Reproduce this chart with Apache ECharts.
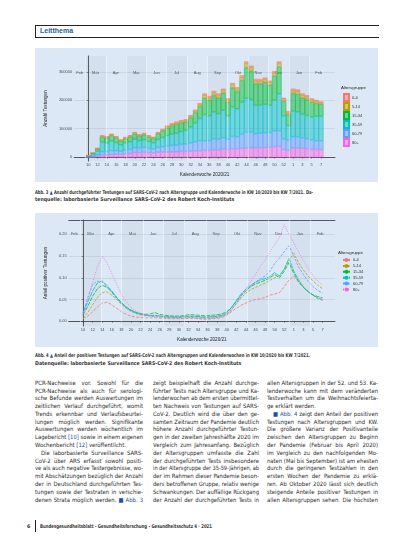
<!DOCTYPE html>
<html>
<head>
<meta charset="utf-8">
<script src="https://cdn.jsdelivr.net/npm/echarts@6/dist/echarts.min.js"></script>
<style>
  body { margin: 0; width: 413px; height: 550px; position: relative; overflow: hidden; background: #fff;
         font-family: "Liberation Sans Narrow", "DejaVu Sans Condensed", "Liberation Sans", sans-serif; color: #2b2b2b; }
  .panel { position: absolute; left: 35px; width: 343px; height: 134px; background: #dce8f5; }
  .ln { position: absolute; white-space: nowrap; }
  .body { font-size: 5.9px; line-height: 7px; }
  .cap { font-size: 5.2px; line-height: 6px; font-weight: bold; color: #333; }
  .b { color: #1f4fa3; }
  #head { position: absolute; left: 35px; top: 25px; width: 343px; height: 11px;
          border-top: 1px solid #222; border-bottom: 1px solid #222; border-left: 1px solid #222; }
  #head span { position: absolute; left: 4px; top: 1px; font: bold 7px "Liberation Sans", sans-serif; color: #1f5f99; }
  #bar { position: absolute; left: 35px; top: 520px; width: 1px; height: 12px; background: #222; }
</style>
</head>
<body>
<div id="head"><span>Leitthema</span></div>
<div id="c1" class="panel" style="top:48px"></div>
<div id="c2" class="panel" style="top:213px"></div>
<div id="bar"></div>
<script>
// Kalenderwochen KW 10/2020 bis KW 7/2021
var weeks = ['10','11','12','13','14','15','16','17','18','19','20','21','22','23','24','25','26','27','28','29',
  '30','31','32','33','34','35','36','37','38','39','40','41','42','43','44','45','46','47','48','49',
  '50','51','52','53','1','2','3','4','5','6','7'];
var ageGroups = ['0-4', '5-14', '15-34', '35-59', '60-79', '80+'];

// Anzahl Testungen je Altersgruppe (in Tausend)
var tests0k  = [0.2,0.4,1,2.5,2.5,2.5,2.5,2,2.5,2.5,2.5,2,2.5,2.5,2,2.5,3,3,3,3.5,3.5,3.5,3.5,4,4,6,5,5,5,5,5,5,5,6,7,6,6,6,6,5,6,6,4,5,6,6,6,5,5,4,4];
var tests5k  = [0.3,0.6,1.5,3.5,3.5,3.5,3.5,3,3.5,3.5,3.5,3,3.5,3.5,3,3.5,4,5,5,5.5,5.5,5.5,5.5,6,7,11,10,11,10,11,9,12,10,12,15,13,11,11,11,11,12,14,9,7,11,11,10,10,9,8,6];
var tests15k = [1.5,3.5,8.5,19,18,20,17,14,15,17,19,17,18,16,15,20,23,27,30,32,31,30,33,37,43,57,54,58,56,60,48,67,61,77,108,100,76,75,77,70,84,94,51,39,62,62,57,56,52,45,42];
var tests35k = [2.5,6,12,33,30,33,28,22,25,27,30,26,27,24,22,28,32,37,40,42,45,48,56,66,78,93,88,95,90,97,82,104,98,112,119,115,100,99,100,96,108,130,80,51,90,88,84,82,80,86,87];
var tests60k = [1,3,6,12,12,14,13,11,13,14,17,16,17,15,14,17,19,21,22,23,25,26,29,32,35,33,34,38,37,40,36,44,43,50,56,55,50,51,52,52,56,55,38,36,39,39,36,35,33,31,30];
var tests80k = [0.5,1.5,3,7,8,9,10,10,12,13,16,16,17,16,15,17,18,18,19,19,20,20,21,22,23,24,24,26,26,28,27,29,29,31,32,33,32,33,34,35,37,38,27,24,33,32,31,30,28,27,27];

// Anteil positiver Testungen je Altersgruppe
var pos0  = [0.006,0.012,0.022,0.033,0.042,0.044,0.038,0.03,0.022,0.016,0.012,0.01,0.009,0.008,0.008,0.008,0.007,0.007,0.006,0.006,0.006,0.006,0.007,0.007,0.006,0.005,0.005,0.006,0.007,0.009,0.014,0.022,0.03,0.037,0.042,0.047,0.05,0.052,0.055,0.06,0.063,0.066,0.08,0.095,0.104,0.09,0.078,0.068,0.06,0.052,0.048];
var pos5  = [0.008,0.02,0.038,0.055,0.066,0.068,0.06,0.05,0.04,0.031,0.024,0.019,0.016,0.014,0.013,0.013,0.012,0.011,0.01,0.01,0.009,0.01,0.011,0.011,0.01,0.009,0.009,0.01,0.011,0.013,0.018,0.028,0.04,0.054,0.065,0.073,0.078,0.083,0.088,0.094,0.1,0.105,0.12,0.14,0.156,0.135,0.118,0.104,0.093,0.083,0.075];
var pos15 = [0.015,0.035,0.058,0.075,0.083,0.078,0.068,0.055,0.043,0.033,0.026,0.021,0.018,0.016,0.017,0.02,0.016,0.014,0.013,0.012,0.012,0.013,0.015,0.015,0.014,0.013,0.013,0.014,0.015,0.017,0.022,0.032,0.046,0.06,0.07,0.08,0.086,0.09,0.094,0.1,0.108,0.1,0.115,0.135,0.11,0.092,0.078,0.068,0.061,0.057,0.054];
var pos35 = [0.02,0.045,0.07,0.088,0.093,0.082,0.07,0.055,0.042,0.032,0.025,0.02,0.016,0.014,0.013,0.014,0.012,0.011,0.01,0.01,0.01,0.011,0.012,0.012,0.011,0.01,0.01,0.011,0.012,0.014,0.02,0.032,0.048,0.063,0.074,0.083,0.09,0.095,0.098,0.103,0.112,0.104,0.12,0.145,0.115,0.095,0.08,0.068,0.06,0.054,0.05];
var pos60 = [0.018,0.055,0.085,0.092,0.09,0.08,0.066,0.052,0.04,0.03,0.023,0.018,0.015,0.013,0.012,0.011,0.01,0.009,0.009,0.008,0.008,0.008,0.009,0.009,0.008,0.007,0.007,0.008,0.009,0.011,0.016,0.026,0.042,0.058,0.07,0.08,0.09,0.098,0.104,0.115,0.133,0.145,0.16,0.174,0.15,0.125,0.108,0.092,0.08,0.071,0.065];
var pos80 = [0.012,0.05,0.09,0.125,0.15,0.135,0.11,0.085,0.062,0.045,0.032,0.024,0.018,0.014,0.012,0.011,0.01,0.009,0.008,0.008,0.007,0.007,0.008,0.008,0.007,0.006,0.006,0.007,0.008,0.01,0.015,0.025,0.041,0.058,0.075,0.092,0.108,0.126,0.141,0.159,0.176,0.193,0.222,0.2,0.18,0.16,0.14,0.122,0.105,0.093,0.083];

// Monate (Beginn als Wochenindex) fuer die Hintergrundbaender
var monthNames = ['Feb','Mär','Apr','Mai','Jun','Jul','Aug','Sep','Okt','Nov','Dez','Jan','Feb'];
var monthStart = [-4.79,-0.64,3.79,8.07,12.5,16.79,21.21,25.64,29.93,34.36,38.64,43.07,47.5,51.5];

var testTicks = [0, 100, 200, 300];
var posTicks = [0, 0.05, 0.1, 0.15, 0.2];

var colors = ['#F8766D','#B79F00','#00BA38','#00BFC4','#619CFF','#F564E3'];
var FONT = 'Liberation Sans';
var PAD = 3; // leere Kategorien links/rechts (Achsenausdehnung wie im Original)

function rgba(hex, a) {
  var n = parseInt(hex.slice(1), 16);
  return 'rgba(' + (n >> 16) + ',' + ((n >> 8) & 255) + ',' + (n & 255) + ',' + a + ')';
}

var weekTicks = weeks.map(function (w, i) { return i; }).filter(function (i) { return i % 2 === 0; });

var axisName = { fontSize: 4.6, color: '#222', fontFamily: FONT };
var axisLab = { fontSize: 4, color: '#4d4d4d', margin: 2, fontFamily: FONT };
var darkLine = { show: true, lineStyle: { color: '#333', width: 0.8 } };
var tickStyle = { color: '#333', width: 0.5 };

function monthSeries(xMin, labelDist, axisIdx) {
  var bands = [];
  for (var m = 0; m < monthNames.length; m++) {
    bands.push([
      { name: monthNames[m], xAxis: Math.max(monthStart[m], xMin),
        itemStyle: { color: m % 2 === 1 ? 'rgba(120,132,150,0.07)' : 'rgba(0,0,0,0)' } },
      { xAxis: monthStart[m + 1] }
    ]);
  }
  return {
    type: 'line', name: 'monate', data: [], silent: true, z: 1, xAxisIndex: axisIdx,
    markArea: {
      silent: true, data: bands,
      label: { show: true, position: 'insideTop', distance: labelDist, fontSize: 4, color: '#555', fontFamily: FONT }
    },
    markLine: {
      silent: true, symbol: ['none', 'none'], label: { show: false },
      lineStyle: { color: 'rgba(255,255,255,0.7)', width: 0.6, type: 'solid' },
      data: monthStart.slice(1, monthNames.length).map(function (x) { return { xAxis: x }; })
    }
  };
}

// ---------- Abb. 3: Anzahl Testungen ----------
var chart1 = echarts.init(document.getElementById('c1'));
var padCats = [];
for (var p = 0; p < PAD; p++) padCats.push('');
var cats1 = padCats.concat(weeks, padCats);
function padded(arr) { return padCats.map(function () { return null; }).concat(arr, padCats.map(function () { return null; })); }
function isWeekTick(idx) { var i = idx - PAD; return i >= 0 && i < weeks.length && i % 2 === 0; }

var stackOrder = [[tests80k, 5], [tests60k, 4], [tests35k, 3], [tests15k, 2], [tests5k, 1], [tests0k, 0]];
var series1 = [monthSeries(-PAD, 15, 1)];
stackOrder.forEach(function (s) {
  var arr = s[0], k = s[1];
  series1.push({
    type: 'bar', name: ageGroups[k], stack: 'n', barWidth: 4.86, z: 2, xAxisIndex: 0,
    data: padded(arr),
    itemStyle: { color: rgba(colors[k], 0.48), borderColor: colors[k], borderWidth: 0.5 }
  });
});
chart1.setOption({
  animation: false,
  grid: { left: 28, right: 43, top: 8, bottom: 17 },
  xAxis: [{
    type: 'category', data: cats1, boundaryGap: false,
    name: 'Kalenderwoche 2020/21', nameLocation: 'middle', nameGap: 7, nameTextStyle: axisName,
    axisLine: darkLine,
    axisTick: { show: true, interval: isWeekTick, length: 1.5, lineStyle: tickStyle },
    axisLabel: Object.assign({ interval: 0, formatter: function (v, idx) { return isWeekTick(idx) ? v : ''; } }, axisLab),
    splitLine: { show: false }
  }, {
    type: 'value', min: -PAD, max: weeks.length - 1 + PAD, show: false
  }],
  yAxis: {
    type: 'value', min: -14, max: 356,
    name: 'Anzahl Testungen', nameLocation: 'middle', nameGap: 16, nameRotate: 90, nameTextStyle: axisName,
    axisLine: darkLine,
    axisTick: { show: true, customValues: testTicks, length: 1.5, lineStyle: tickStyle },
    axisLabel: Object.assign({ customValues: testTicks, formatter: function (v) { return String(v * 1000); } }, axisLab),
    splitLine: { show: true, lineStyle: { color: '#b7c4d4', width: 0.5 } }
  },
  legend: {
    orient: 'vertical', left: 308, top: 45, padding: 0, itemWidth: 5, itemHeight: 7, itemGap: 0,
    icon: 'rect', data: ageGroups,
    textStyle: { fontSize: 4, color: '#333', fontFamily: FONT, padding: [0, 0, 0, -2] }
  },
  graphic: [{ type: 'text', left: 306, top: 38,
              style: { text: 'Altersgruppe', fontSize: 4.4, fill: '#222', fontFamily: FONT } }],
  series: series1
});

// ---------- Abb. 4: Anteil positiver Testungen ----------
var chart2 = echarts.init(document.getElementById('c2'));
var posData = [pos0, pos5, pos15, pos35, pos60, pos80];
var dashes = [[3, 1.5], [2.5, 1.5], [4, 1.2], [5, 0.8], [2.5, 1.5], [1, 1.5]];
var series2 = [monthSeries(-3, 12, 0)];
posData.forEach(function (arr, k) {
  series2.push({
    type: 'line', name: ageGroups[k], z: 3, showSymbol: false, symbol: 'circle', symbolSize: 2,
    data: arr.map(function (v, i) { return [i, v]; }),
    lineStyle: { color: colors[k], width: 0.8, type: dashes[k] },
    itemStyle: { color: colors[k] }
  });
});
chart2.setOption({
  animation: false,
  grid: { left: 25, right: 43, top: 7, bottom: 17 },
  xAxis: [{
    type: 'value', min: -3, max: 52.6,
    name: 'Kalenderwoche 2020/21', nameLocation: 'middle', nameGap: 7, nameTextStyle: axisName,
    axisLine: darkLine,
    axisTick: { show: true, customValues: weekTicks, length: 1.5, lineStyle: tickStyle },
    axisLabel: Object.assign({ customValues: weekTicks, formatter: function (v) { return weeks[v]; } }, axisLab),
    splitLine: { show: false }
  }, {
    type: 'value', position: 'top', min: -3, max: 52.6, axisLine: darkLine,
    axisTick: { show: false }, axisLabel: { show: false }, splitLine: { show: false }
  }],
  yAxis: {
    type: 'value', min: -0.011, max: 0.233,
    name: 'Anteil positiver Testungen', nameLocation: 'middle', nameGap: 13, nameRotate: 90, nameTextStyle: axisName,
    axisLine: darkLine,
    axisTick: { show: true, customValues: posTicks, length: 1.5, lineStyle: tickStyle },
    axisLabel: Object.assign({ customValues: posTicks, formatter: function (v) { return v.toFixed(2); } }, axisLab),
    splitLine: { show: true, lineStyle: { color: '#b7c4d4', width: 0.5 } }
  },
  legend: {
    orient: 'vertical', left: 307, top: 45, padding: 0, itemWidth: 7, itemHeight: 5, itemGap: 1.9,
    data: ageGroups,
    textStyle: { fontSize: 4, color: '#333', fontFamily: FONT, padding: [0, 0, 0, -2] }
  },
  graphic: [{ type: 'text', left: 303, top: 38,
              style: { text: 'Altersgruppe', fontSize: 4.4, fill: '#222', fontFamily: FONT } }],
  series: series2
});

// ---------- Seitentext ----------
var caption1 = ['Abb. 3 ▲ Anzahl durchgeführter Testungen auf SARS-CoV-2 nach Altersgruppe und Kalenderwoche in KW 10/2020 bis KW 7/2021. Da-',
  '<tenquelle: laborbasierte Surveillance SARS-CoV-2 des Robert Koch-Instituts'];
var caption2 = ['Abb. 4 ▲ Anteil der positiven Testungen auf SARS-CoV-2 nach Altersgruppen und Kalenderwochen in KW 10/2020 bis KW 7/2021.',
  '<Datenquelle: laborbasierte Surveillance SARS-CoV-2 des Robert Koch-Instituts'];
var col1 = ['PCR-Nachweise vor. Sowohl für die', 'PCR-Nachweise als auch für serologi-',
  'sche Befunde werden Auswertungen im', 'zeitlichen Verlauf durchgeführt, womit',
  'Trends erkennbar und Verlaufsbeurtei-', 'lungen möglich werden. Signifikante',
  'Auswertungen werden wöchentlich im', 'Lagebericht [10] sowie in einem eigenen',
  '<Wochenbericht [12] veröffentlicht.', '>Die laborbasierte Surveillance SARS-',
  'CoV-2 über ARS erfasst sowohl positi-', 've als auch negative Testergebnisse, wo-',
  'mit Abschätzungen bezüglich der Anzahl', 'der in Deutschland durchgeführten Tes-',
  'tungen sowie der Testraten in verschie-', 'denen Strata möglich werden. ■ Abb. 3'];
var col2 = ['zeigt beispielhaft die Anzahl durchge-', 'führter Tests nach Altersgruppe und Ka-',
  'lenderwochen ab dem ersten übermittel-', 'ten Nachweis von Testungen auf SARS-',
  'CoV-2. Deutlich wird die über den ge-', 'samten Zeitraum der Pandemie deutlich',
  'höhere Anzahl durchgeführter Testun-', 'gen in der zweiten Jahreshälfte 2020 im',
  'Vergleich zum Jahresanfang. Bezüglich', 'der Altersgruppen umfasste die Zahl',
  'der durchgeführten Tests insbesondere', 'in der Altersgruppe der 35-59-Jährigen, ab',
  'der im Rahmen dieser Pandemie beson-', 'ders betroffenen Gruppe, relativ wenige',
  'Schwankungen. Der auffällige Rückgang', 'der Anzahl der durchgeführten Tests in'];
var col3 = ['allen Altersgruppen in der 52. und 53. Ka-', 'lenderwoche kann mit dem veränderten',
  'Testverhalten um die Weihnachtsfeierta-', '<ge erklärt werden.',
  '>■ Abb. 4 zeigt den Anteil der positiven', 'Testungen nach Altersgruppen und KW.',
  'Die größere Varianz der Positivanteile', 'zwischen den Altersgruppen zu Beginn',
  'der Pandemie (Februar bis April 2020)', 'im Vergleich zu den nachfolgenden Mo-',
  'naten (Mai bis September) ist am ehesten', 'durch die geringeren Testzahlen in den',
  'ersten Wochen der Pandemie zu erklä-', 'ren. Ab Oktober 2020 lässt sich deutlich',
  'steigende Anteile positiver Testungen in', 'allen Altersgruppen sehen. Die höchsten'];

function markup(t, cap) {
  t = t.replace(/\[(\d+)\]/g, '<span class="b">[$1]</span>').replace(/■ Abb\. (\d)/g, '<span class="b">■ Abb. $1</span>');
  if (cap) t = t.replace('▲', '<span class="b">▲</span>');
  return t;
}

function addLine(raw, x, yc, w, cls, lh) {
  var mode = 'j', indent = 0;
  if (raw[0] === '<') { mode = 'l'; raw = raw.slice(1); }
  if (raw[0] === '>') { indent = 6; raw = raw.slice(1); }
  var d = document.createElement('div');
  d.className = 'ln ' + cls;
  d.style.left = (x + indent) + 'px';
  d.style.top = (yc - lh / 2) + 'px';
  d.innerHTML = markup(raw, cls === 'cap');
  document.body.appendChild(d);
  var nat = d.getBoundingClientRect().width, target = w - indent;
  var sp = (raw.match(/ /g) || []).length;
  if (mode === 'j' && nat < target && sp) d.style.wordSpacing = ((target - nat) / sp) + 'px';
  if (nat > target) { d.style.transformOrigin = '0 50%'; d.style.transform = 'scaleX(' + (target / nat) + ')'; }
}

addLine(caption1[0], 35, 192.3, 278, 'cap', 6);
addLine(caption1[1], 35, 198.6, 278, 'cap', 6);
addLine(caption2[0], 35, 355, 275, 'cap', 6);
addLine(caption2[1], 35, 362.6, 275, 'cap', 6);
[[col1, 35, 108], [col2, 153, 106], [col3, 267, 111]].forEach(function (c) {
  c[0].forEach(function (t, k) { addLine(t, c[1], 383.3 + 7.78 * k, c[2], 'body', 7); });
});
addLine('<6', 27, 526, 10, 'cap', 6);
addLine('<Bundesgesundheitsblatt - Gesundheitsforschung - Gesundheitsschutz 4 · 2021', 40, 526, 172, 'cap', 6);

window.onresize = function () { chart1.resize(); chart2.resize(); };
</script>
</body>
</html>
